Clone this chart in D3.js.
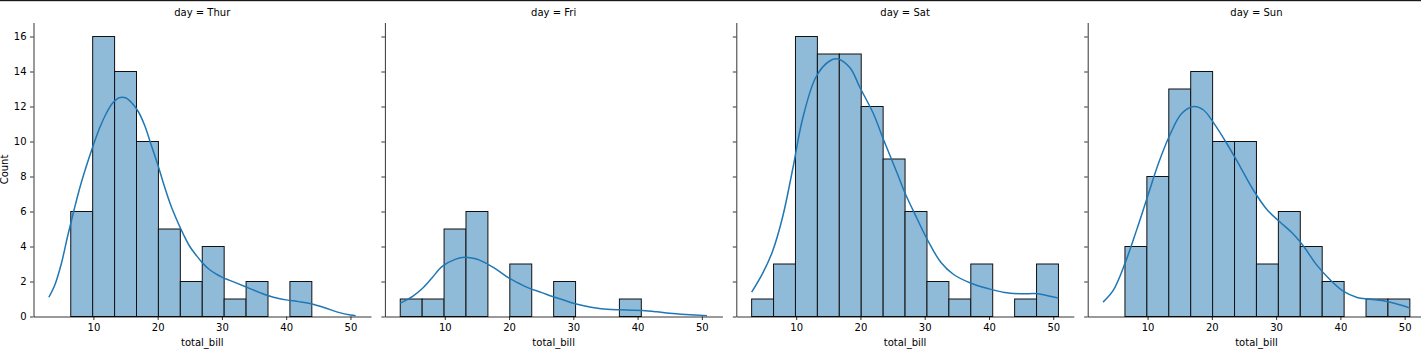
<!DOCTYPE html>
<html>
<head>
<meta charset="utf-8">
<script src="https://cdn.jsdelivr.net/npm/d3@7"></script>
<style>
body { margin: 0; background: #fff; }
text { font-family: "DejaVu Sans", sans-serif; font-size: 10px; fill: #000; }
</style>
</head>
<body>
<div id="chart"></div>
<script>
var width = 1421;
var height = 353;

// data
let days = ["Thur", "Fri", "Sat", "Sun"];
let binStart = 3.07;
let binEnd = 50.81;
let binCount = 14;
let countsThur = [0, 6, 16, 14, 10, 5, 2, 4, 1, 2, 0, 2, 0, 0];
let countsFri = [1, 1, 5, 6, 0, 3, 0, 2, 0, 0, 1, 0, 0, 0];
let countsSat = [1, 3, 16, 15, 15, 12, 9, 6, 2, 1, 3, 0, 1, 3];
let countsSun = [0, 4, 8, 13, 14, 10, 10, 3, 6, 4, 2, 0, 1, 1];

let kdeThur = [[3.07,1.1],[4,1.8],[5,3.0],[6,4.6],[7,6.1],[8,7.5],[9,8.7],[10,9.8],[11,10.8],[12,11.6],[13,12.2],[14,12.5],[15,12.5],[16,12.2],[17,11.7],[18,10.9],[19,9.8],[20,8.7],[21,7.5],[22,6.4],[23,5.5],[24,4.7],[25,4.0],[26,3.5],[27,3.05],[28,2.7],[29,2.45],[30,2.25],[32,1.95],[34,1.65],[36,1.35],[38,1.1],[40,0.95],[42,0.85],[44,0.72],[46,0.5],[48,0.25],[50,0.08],[50.81,0.05]];
let kdeFri = [[3.07,0.76],[5,1.15],[6.5,1.6],[8,2.2],[9.6,2.86],[11.7,3.28],[13.1,3.39],[14.8,3.3],[16.4,3.05],[18.2,2.65],[20,2.19],[21.5,1.9],[23.1,1.62],[25,1.38],[26.8,1.14],[28.5,0.94],[30,0.76],[31.8,0.6],[33.5,0.48],[35.3,0.41],[37.2,0.38],[39,0.36],[40.8,0.34],[43,0.27],[45,0.19],[47.5,0.12],[50.81,0.05]];
let kdeSat = [[3.07,1.39],[4.8,2.48],[6.3,3.7],[7.9,5.7],[9.5,8.5],[11.0,11.3],[13.1,13.7],[15.2,14.6],[16.5,14.72],[18.4,14.2],[19.9,13.1],[22,11.6],[23.6,10.1],[25.7,8.2],[27,7.0],[28.8,5.6],[30.4,4.4],[32.5,3.1],[34.5,2.4],[37.2,1.9],[39.8,1.6],[42.4,1.37],[45,1.3],[47.6,1.3],[49.7,1.14],[50.81,1.05]];
let kdeSun = [[3.07,0.82],[4.7,1.52],[6.5,3.05],[8.3,4.95],[10,6.86],[11.7,8.76],[13.5,10.4],[15.3,11.6],[17.2,12.0],[18.7,11.8],[20.3,11.05],[22.3,9.9],[24.4,8.57],[26.5,7.2],[28.6,6.1],[30.6,5.4],[32.7,4.7],[34.3,4.0],[36.3,2.95],[38.4,2.1],[40.5,1.43],[42.6,1.09],[44.6,0.99],[47.2,0.86],[49.8,0.61],[50.81,0.48]];

let xTicks = [10, 20, 30, 40, 50];
let yTicks = [0, 2, 4, 6, 8, 10, 12, 14, 16];

let countsByDay = [countsThur, countsFri, countsSat, countsSun];
let kdeByDay = [kdeThur, kdeFri, kdeSat, kdeSun];

var panelLeft = 33.5;
var panelStep = 351.4;
var panelW = 337.5;
var plotTop = 22.5;
var plotBottom = 316.5;

let binW = (binEnd - binStart) / binCount;
let edges = d3.range(binCount + 1).map(i => binStart + i * binW);
let pad = (binEnd - binStart) * 0.05;

let scaleX = d3.scaleLinear()
    .domain([binStart - pad, binEnd + pad])
    .range([0, panelW]);

let scaleY = d3.scaleLinear()
    .domain([0, d3.max(countsByDay.flat()) * 1.05])
    .range([plotBottom, plotTop]);

let svg = d3.select("#chart")
    .append("svg")
    .attr("width", width)
    .attr("height", height);

svg.append("rect")
    .attr("x", 0).attr("y", 0)
    .attr("width", width).attr("height", 1.2)
    .attr("fill", "#1a1a1a");

let line = d3.line()
    .x(d => scaleX(d[0]))
    .y(d => scaleY(d[1]))
    .curve(d3.curveCatmullRom);

days.forEach((day, i) => {
    let g = svg.append("g")
        .attr("transform", "translate(" + (panelLeft + i * panelStep) + ",0)");

    let bins = countsByDay[i].map((c, j) => ({ x0: edges[j], x1: edges[j + 1], c: c }));

    g.selectAll(".bar")
        .data(bins)
        .enter()
        .append("rect")
        .classed("bar", true)
        .attr("x", d => scaleX(d.x0))
        .attr("width", d => scaleX(d.x1) - scaleX(d.x0))
        .attr("y", d => scaleY(d.c))
        .attr("height", d => scaleY(0) - scaleY(d.c))
        .attr("fill", "#8fbbd9")
        .attr("stroke", "#111")
        .attr("stroke-width", 1);

    g.append("path")
        .datum(kdeByDay[i])
        .attr("d", line)
        .attr("fill", "none")
        .attr("stroke", "#1f77b4")
        .attr("stroke-width", 1.5);

    let xAxis = g.append("g")
        .attr("transform", "translate(0," + plotBottom + ")")
        .call(d3.axisBottom(scaleX).tickValues(xTicks).tickSize(3.5).tickPadding(3.5).tickSizeOuter(0));

    let yAxis = g.append("g")
        .call(d3.axisLeft(scaleY).tickValues(yTicks).tickSize(3.5).tickPadding(3.5).tickSizeOuter(0)
            .tickFormat(i === 0 ? d3.format("d") : () => ""));

    [xAxis, yAxis].forEach(a => {
        a.select(".domain").attr("stroke", "#000").attr("stroke-width", 0.8);
        a.selectAll(".tick line").attr("stroke", "#000").attr("stroke-width", 0.8);
        a.selectAll(".tick text").attr("font-size", 10).attr("font-family", "DejaVu Sans, sans-serif").attr("fill", "#000");
    });

    g.append("text")
        .attr("x", panelW / 2)
        .attr("y", 16)
        .attr("text-anchor", "middle")
        .text("day = " + day);

    g.append("text")
        .attr("x", panelW / 2)
        .attr("y", 346)
        .attr("text-anchor", "middle")
        .text("total_bill");
});

svg.append("text")
    .attr("transform", "translate(7.5," + ((plotTop + plotBottom) / 2) + ") rotate(-90)")
    .attr("text-anchor", "middle")
    .text("Count");
</script>
</body>
</html>
